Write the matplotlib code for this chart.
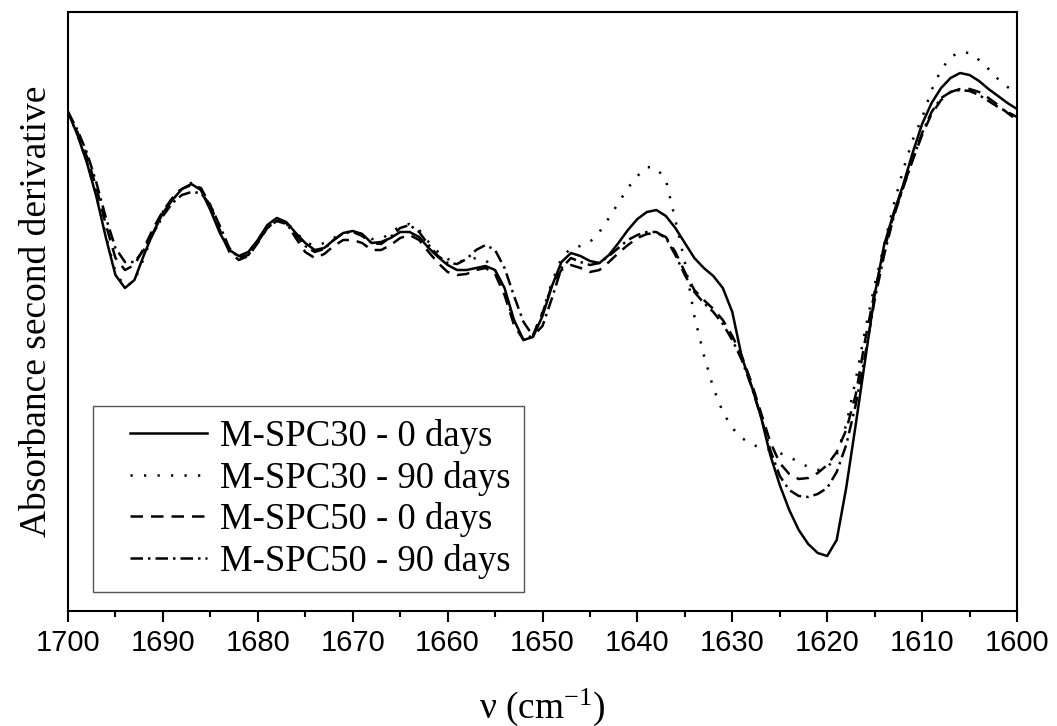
import numpy as np
import matplotlib
matplotlib.use("Agg")
import matplotlib.pyplot as plt
from matplotlib.legend_handler import HandlerLine2D

# wavenumber grid (cm^-1), 1700 -> 1600
wavenumber = np.arange(1700, 1599, -1)

# second-derivative absorbance, arbitrary units
m_spc30_0 = [248, 225, 197, 163, 122, 85, 72, 80, 105, 128, 147, 160, 171, 176, 170, 150,
             127, 110, 104, 108, 120, 135, 142, 138, 127, 117, 110, 112, 120, 127, 129, 126,
             117, 118, 122, 128, 128, 123, 112, 103, 95, 90, 90, 92, 94, 90, 72, 40, 20, 23,
             44, 74, 98, 107, 104, 99, 97, 105, 117, 130, 141, 148, 150, 144, 132, 117, 102,
             92, 84, 72, 48, 3, -25, -56, -95, -125, -150, -170, -184, -193, -196, -180, -128,
             -65, 0, 65, 115, 147, 175, 207, 236, 257, 272, 282, 287, 285, 279, 271, 264, 257, 251]

m_spc30_90 = [248, 225, 198, 164, 124, 88, 73, 79, 102, 128, 148, 162, 172, 177, 172, 153,
              128, 110, 103, 108, 120, 134, 141, 138, 128, 118, 114, 117, 122, 127, 129, 126,
              121, 121, 127, 134, 136, 130, 118, 108, 101, 98, 100, 102, 100, 90, 68, 38, 20, 25,
              48, 78, 102, 112, 114, 118, 128, 142, 157, 172, 184, 193, 192, 180, 140, 98, 44,
              5, -28, -52, -68, -78, -84, -88, -90, -93, -97, -102, -107, -110, -108, -95, -65,
              -20, 30, 75, 115, 155, 190, 220, 242, 270, 290, 303, 308, 307, 300, 291, 281, 273, 267]

m_spc50_0 = [248, 228, 203, 172, 135, 102, 90, 95, 112, 132, 149, 162, 171, 175, 172, 155,
             130, 108, 100, 104, 117, 132, 140, 137, 122, 108, 102, 106, 114, 120, 120, 117,
             110, 110, 115, 122, 125, 120, 108, 97, 88, 85, 86, 90, 92, 86, 65, 35, 20, 25,
             47, 75, 90, 95, 92, 88, 90, 98, 107, 115, 122, 126, 127, 123, 108, 88, 70, 60,
             51, 40, 24, 4, -22, -52, -82, -103, -114, -119, -118, -113, -105, -92, -70, -35,
             20, 68, 110, 145, 173, 200, 225, 246, 260, 268, 271, 271, 268, 262, 255, 247, 240]

m_spc50_90 = [248, 230, 207, 177, 142, 112, 98, 98, 110, 127, 144, 157, 165, 168, 167, 155,
              134, 112, 102, 105, 118, 132, 139, 136, 125, 114, 108, 111, 120, 127, 128, 124,
              117, 116, 123, 132, 135, 128, 115, 104, 97, 96, 101, 110, 115, 110, 92, 64, 38, 24,
              34, 62, 92, 102, 98, 95, 97, 104, 112, 120, 125, 128, 128, 122, 105, 85, 68, 57,
              48, 36, 20, 0, -26, -56, -90, -116, -130, -136, -137, -134, -128, -112, -85, -45,
              5, 60, 105, 143, 172, 200, 227, 248, 262, 268, 270, 269, 265, 259, 253, 248, 243]

labels = ["M-SPC30 - 0 days", "M-SPC30 - 90 days", "M-SPC50 - 0 days", "M-SPC50 - 90 days"]
x_ticks = [1700, 1690, 1680, 1670, 1660, 1650, 1640, 1630, 1620, 1610, 1600]

plt.rcParams["mathtext.default"] = "regular"
serif = ["Liberation Serif", "DejaVu Serif"]
sans = ["Liberation Sans", "DejaVu Sans"]


class IndentedLineHandler(HandlerLine2D):
    """Legend line that starts some way into the handle box."""

    def __init__(self, indent_frac=0.24, **kw):
        super().__init__(**kw)
        self.indent_frac = indent_frac

    def create_artists(self, legend, orig_handle, xdescent, ydescent, width, height,
                       fontsize, trans):
        artists = super().create_artists(legend, orig_handle, xdescent, ydescent, width,
                                         height, fontsize, trans)
        for a in artists:
            xd = np.asarray(a.get_xdata(), dtype=float)
            if len(xd) >= 2:
                x0, x1 = xd.min(), xd.max()
                a.set_xdata(np.linspace(x0 + self.indent_frac * (x1 - x0), x1, len(xd)))
        return artists


fig = plt.figure(figsize=(10.57, 7.26), dpi=100)
ax = fig.add_axes([68 / 1057, 1 - 611 / 726, 949 / 1057, 599 / 726])

lw = 1.8
styles = [
    dict(linestyle="-"),
    dict(linestyle=(0, (0.9, 4.5))),
    dict(linestyle=(0, (5.0, 3.2))),
    dict(linestyle=(0, (5.0, 2.0, 1.0, 2.0))),
]
series = [m_spc30_0, m_spc30_90, m_spc50_0, m_spc50_90]
lines = []
for vals, lab, st in zip(series, labels, styles):
    ln, = ax.plot(wavenumber, vals, color="black", lw=lw, label=lab, **st)
    lines.append(ln)

ax.set_xlim(1700, 1600)
ax.set_ylim(-251, 348)
ax.set_xticks(x_ticks)
ax.set_xticks(np.arange(1695, 1600, -10), minor=True)
ax.set_xticklabels([str(t) for t in x_ticks], fontfamily=sans, fontsize=21)
ax.tick_params(axis="x", which="major", direction="out", length=8, width=1.5, pad=5,
               top=False)
ax.tick_params(axis="x", which="minor", direction="out", length=4.3, width=1.5, top=False)
ax.set_yticks([])
for sp in ax.spines.values():
    sp.set_linewidth(1.5)

ax.set_xlabel("ν (cm$^{-1}$)", fontfamily=serif, fontsize=27, labelpad=21)
ax.set_ylabel("Absorbance second derivative", fontfamily=serif, fontsize=27, labelpad=10)

handler = IndentedLineHandler(indent_frac=0.24)
leg = ax.legend(handles=lines, loc="lower left", bbox_to_anchor=(0.026, 0.032),
                borderaxespad=0, prop=dict(family=serif, size=26.5),
                handlelength=2.75, handletextpad=0.37, labelspacing=0.18, borderpad=0.35,
                fancybox=False, framealpha=1,
                handler_map={ln: handler for ln in lines})
leg.get_frame().set_edgecolor("#555555")
leg.get_frame().set_linewidth(1.0)

fig.savefig("out.png", dpi=100)
